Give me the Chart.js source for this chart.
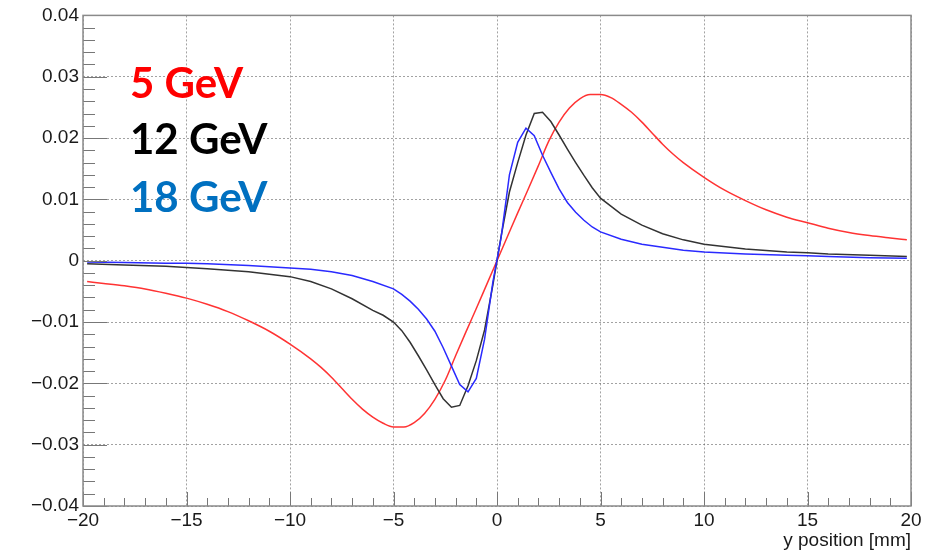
<!DOCTYPE html>
<html>
<head>
<meta charset="utf-8">
<script src="https://cdn.jsdelivr.net/npm/chart.js@4.4.1/dist/chart.umd.min.js"></script>
<style>
  html, body { margin: 0; padding: 0; background: #fff; }
  #wrap { position: relative; width: 938px; height: 552px; }
  .lbl { position: absolute; left: 130px; font: bold 42px Lato, "Open Sans", sans-serif; line-height: 42px; white-space: nowrap; }
</style>
</head>
<body>
<div id="wrap">
  <canvas id="chart" width="938" height="552"></canvas>
  <div class="lbl" style="top:61px;color:#ff0000">5 GeV</div>
  <div class="lbl" style="top:117px;color:#000000">12 GeV</div>
  <div class="lbl" style="top:175px;color:#0070c0">18 GeV</div>
</div>
<script>
// 5 GeV (red)
const x5 = [-19.8, -19, -18, -17, -16, -15, -14, -13, -12, -11, -10, -9, -8.5, -8, -7.5, -7, -6.5, -6, -5.5, -5, -4.5, -4, -3.5, -3, -2.5, -2, -1.5, -1, -0.5, 0,
            0.5, 1, 1.5, 2, 2.5, 3, 3.5, 4, 4.5, 5, 5.5, 6, 6.5, 7, 7.5, 8, 8.5, 9, 10, 11, 12, 13, 14, 15, 16, 17, 18, 19, 19.8];
const y5 = [-0.0034, -0.0037, -0.0041, -0.0046, -0.0053, -0.0061, -0.0071, -0.0083, -0.0098, -0.0115, -0.0136, -0.0160, -0.0174, -0.0190, -0.0208, -0.0226, -0.0242, -0.0255, -0.0265, -0.0271, -0.0271, -0.0264, -0.0249, -0.0226, -0.0195, -0.0155, -0.0116, -0.0078, -0.0039, 0,
            0.0039, 0.0078, 0.0116, 0.0155, 0.0195, 0.0226, 0.0249, 0.0264, 0.0271, 0.0271, 0.0266, 0.0255, 0.0242, 0.0226, 0.0208, 0.0190, 0.0174, 0.0160, 0.0136, 0.0115, 0.0098, 0.0083, 0.0071, 0.0062, 0.0053, 0.0046, 0.0041, 0.0037, 0.0034];

// 12 GeV (black)
const x12 = [-19.8, -18, -16, -15, -14, -12, -10, -9, -8, -7, -6, -5.5, -5, -4.6, -4.2, -3.8, -3.4, -3.0, -2.6, -2.2, -1.8, -1.4, -1.0, -0.6, -0.2,
             0.2, 0.6, 1.0, 1.4, 1.8, 2.2, 2.6, 3.0, 3.4, 3.8, 4.2, 4.6, 5, 6, 7, 8, 9, 10, 12, 14, 15, 16, 18, 19.8];
const y12 = [-0.0005, -0.0007, -0.0009, -0.0011, -0.0013, -0.0018, -0.0026, -0.0034, -0.0046, -0.0062, -0.0081, -0.0089, -0.0100, -0.0114, -0.0133, -0.0155, -0.0178, -0.0202, -0.0225, -0.0239, -0.0236, -0.0204, -0.0163, -0.0113, -0.0040,
             0.0040, 0.0112, 0.0160, 0.0205, 0.0240, 0.0242, 0.0227, 0.0205, 0.0182, 0.0160, 0.0139, 0.0119, 0.0102, 0.0076, 0.0058, 0.0044, 0.0034, 0.0027, 0.0019, 0.0014, 0.0013, 0.0011, 0.0009, 0.0007];

// 18 GeV (blue)
const x18 = [-19.8, -18, -16, -15, -14, -12, -10, -9, -8, -7, -6, -5, -4.6, -4.2, -3.8, -3.4, -3.0, -2.6, -2.2, -1.8, -1.4, -1.0, -0.6, -0.2,
             0.2, 0.6, 1.0, 1.4, 1.8, 2.2, 2.6, 3.0, 3.4, 3.8, 4.2, 4.6, 5, 6, 7, 8, 9, 10, 12, 14, 15, 16, 18, 19.8];
const y18 = [-0.0002, -0.0003, -0.0004, -0.0004, -0.0005, -0.0008, -0.0012, -0.0014, -0.0018, -0.0024, -0.0034, -0.0046, -0.0055, -0.0066, -0.0079, -0.0095, -0.0115, -0.0142, -0.0172, -0.0202, -0.0214, -0.0192, -0.0128, -0.0035,
             0.0038, 0.0140, 0.0193, 0.0216, 0.0204, 0.0172, 0.0144, 0.0117, 0.0095, 0.0079, 0.0066, 0.0055, 0.0047, 0.0035, 0.0027, 0.0022, 0.0017, 0.0014, 0.0011, 0.0009, 0.0008, 0.0007, 0.0005, 0.0004];

const X_MIN = -20, X_MAX = 20, Y_MIN = -0.04, Y_MAX = 0.04;

function pts(xs, ys) {
  return xs.map((x, i) => ({ x, y: ys[i] }));
}

function minus(v, digits) {
  if (Math.abs(v) < 1e-9) return '0';
  const s = Math.abs(v).toFixed(digits);
  return v < 0 ? '\u2212' + s : s;
}

// ROOT style frame + inner tick marks
const frameTicks = {
  id: 'frameTicks',
  afterDatasetsDraw(chart) {
    const { ctx, chartArea: a, scales } = chart;
    const sx = scales.x, sy = scales.y;
    ctx.save();
    ctx.strokeStyle = '#777';
    ctx.lineWidth = 1;
    ctx.beginPath();
    for (let i = X_MIN; i <= X_MAX; i++) {
      const px = Math.round(sx.getPixelForValue(i)) + 0.5;
      const len = i % 5 === 0 ? 14 : 8;
      ctx.moveTo(px, a.bottom);
      ctx.lineTo(px, a.bottom - len);
    }
    for (let k = -20; k <= 20; k++) {
      const py = Math.round(sy.getPixelForValue(k * 0.002)) + 0.5;
      const len = k % 5 === 0 ? 24 : 12;
      ctx.moveTo(a.left, py);
      ctx.lineTo(a.left + len, py);
    }
    ctx.stroke();
    ctx.strokeStyle = '#8a8a8a';
    ctx.lineWidth = 1.5;
    ctx.strokeRect(a.left, a.top, a.right - a.left, a.bottom - a.top);
    ctx.restore();
  }
};

const gridOpts = { color: 'rgba(100,100,100,0.6)', lineWidth: 1, drawTicks: false };

new Chart(document.getElementById('chart'), {
  type: 'scatter',
  data: {
    datasets: [
      { label: '18 GeV', data: pts(x18, y18), showLine: true, borderColor: '#2a2aff', borderWidth: 1.5, pointRadius: 0, tension: 0 },
      { label: '12 GeV', data: pts(x12, y12), showLine: true, borderColor: '#333333', borderWidth: 1.5, pointRadius: 0, tension: 0 },
      { label: '5 GeV', data: pts(x5, y5), showLine: true, borderColor: '#ff3333', borderWidth: 1.5, pointRadius: 0, cubicInterpolationMode: 'monotone' }
    ]
  },
  options: {
    responsive: false,
    animation: false,
    layout: { padding: { top: 15, right: 27, left: 0, bottom: 0 } },
    plugins: { legend: { display: false }, tooltip: { enabled: false } },
    scales: {
      x: {
        type: 'linear', min: X_MIN, max: X_MAX,
        grid: gridOpts,
        border: { display: false, dash: [2, 2] },
        ticks: {
          stepSize: 5, maxRotation: 0, padding: 3, color: '#1a1a1a',
          font: { family: '"Liberation Sans", Arial, sans-serif', size: 19 },
          callback: v => minus(v, 0)
        },
        title: {
          display: true, text: 'y position [mm]', align: 'end', color: '#1a1a1a',
          font: { family: '"Liberation Sans", Arial, sans-serif', size: 19 },
          padding: { top: 0, bottom: 0 }
        },
        afterFit(s) { s.height = 46; }
      },
      y: {
        type: 'linear', min: Y_MIN, max: Y_MAX,
        grid: gridOpts,
        border: { display: false, dash: [2, 2] },
        ticks: {
          stepSize: 0.01, padding: 4, color: '#1a1a1a',
          font: { family: '"Liberation Sans", Arial, sans-serif', size: 19 },
          callback: v => minus(v, 2)
        },
        afterFit(s) { s.width = 83; }
      }
    }
  },
  plugins: [frameTicks]
});
</script>
</body>
</html>
